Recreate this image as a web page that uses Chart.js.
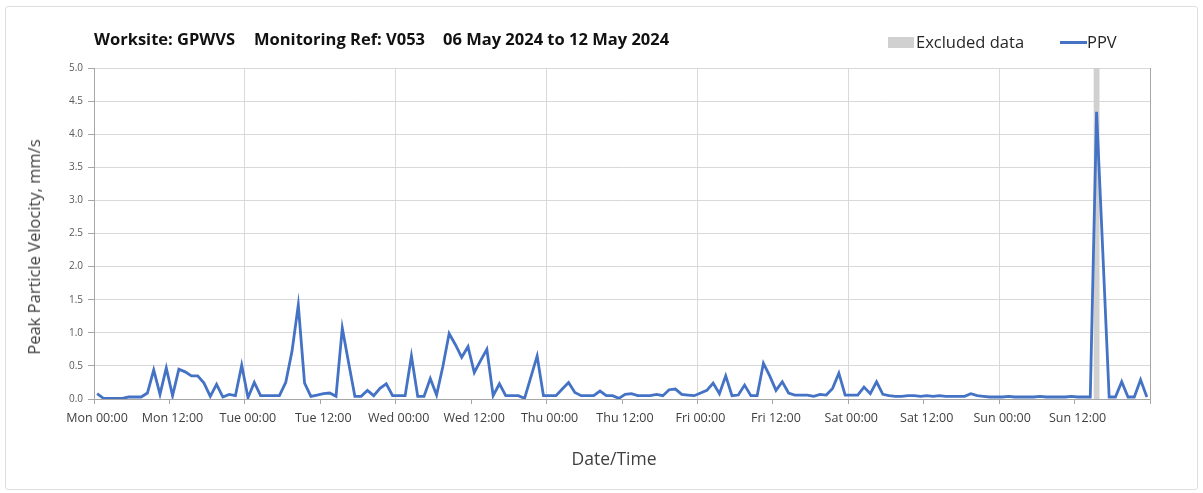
<!DOCTYPE html>
<html>
<head>
<meta charset="utf-8">
<script src="https://cdn.jsdelivr.net/npm/chart.js@4/dist/chart.umd.min.js"></script>
<style>
  html, body { margin: 0; padding: 0; background: #fff; }
  #wrap { position: relative; width: 1203px; height: 493px; overflow: hidden;
          font-family: "Open Sans", Lato, sans-serif; }
  #frame { position: absolute; left: 5px; top: 6px; width: 1191px; height: 482px;
           border: 1px solid #dedede; border-radius: 3px; }
  #chart { position: absolute; left: 0; top: 0; }
  .ttl { position: absolute; top: 27px; font-weight: bold; font-size: 16.5px; color: #111; white-space: pre; }
  .leg { position: absolute; top: 30px; font-size: 16.5px; color: #262626; white-space: pre; }
  #exBox { position: absolute; left: 888px; top: 37px; width: 26px; height: 11px; background: #d0d0d0; }
  #ppvLine { position: absolute; left: 1060px; top: 41px; width: 27px; height: 3px; background: #4472C4; }
  .axTitle { position: absolute; font-size: 16.5px; color: #404040; white-space: pre; line-height: 20px; }
  #yTitle { left: 34px; top: 247px; transform: translate(-50%, -50%) rotate(-90deg); }
  #xTitle { left: 614px; top: 458px; transform: translate(-50%, -50%); font-size: 17.5px; }
</style>
</head>
<body>
<div id="wrap">
  <div id="frame"></div>
  <canvas id="chart" width="1203" height="493"></canvas>
  <span class="ttl" style="left:94px">Worksite: GPWVS</span>
  <span class="ttl" style="left:254px">Monitoring Ref: V053</span>
  <span class="ttl" style="left:443px">06 May 2024 to 12 May 2024</span>
  <div id="exBox"></div>
  <span class="leg" style="left:916px">Excluded data</span>
  <div id="ppvLine"></div>
  <span class="leg" style="left:1087px">PPV</span>
  <span class="axTitle" id="yTitle">Peak Particle Velocity, mm/s</span>
  <span class="axTitle" id="xTitle">Date/Time</span>
</div>
<script>
// Hourly peak particle velocity (mm/s), one array per day, 00:00-23:00
const monPPV = [0.08,0.01,0.01,0.01,0.01,0.03,0.03,0.03,0.09,0.44,0.07,0.47,
                0.05,0.45,0.41,0.35,0.35,0.24,0.04,0.22,0.03,0.07,0.05,0.51];
const tuePPV = [0.02,0.25,0.05,0.05,0.05,0.05,0.25,0.72,1.42,0.24,0.04,0.06,
                0.08,0.09,0.04,1.07,0.55,0.04,0.04,0.13,0.05,0.16,0.23,0.05];
const wedPPV = [0.05,0.05,0.65,0.04,0.04,0.31,0.06,0.49,0.99,0.82,0.63,0.79,
                0.40,0.58,0.75,0.05,0.23,0.05,0.05,0.05,0.01,0.33,0.65,0.05];
const thuPPV = [0.05,0.05,0.15,0.25,0.10,0.05,0.05,0.05,0.12,0.05,0.05,0.01,
                0.07,0.08,0.05,0.05,0.05,0.07,0.05,0.14,0.15,0.07,0.06,0.05];
const friPPV = [0.09,0.13,0.24,0.08,0.35,0.05,0.06,0.21,0.05,0.05,0.54,0.35,
                0.13,0.26,0.09,0.06,0.06,0.06,0.04,0.07,0.06,0.16,0.39,0.06];
const satPPV = [0.06,0.06,0.18,0.08,0.26,0.07,0.05,0.04,0.04,0.05,0.05,0.04,
                0.05,0.04,0.05,0.04,0.04,0.04,0.04,0.08,0.05,0.04,0.03,0.03];
const sunPPV = [0.03,0.04,0.03,0.03,0.03,0.03,0.04,0.03,0.03,0.03,0.03,0.04,
                0.03,0.03,0.03,4.34,2.20,0.03,0.03,0.26,0.03,0.03,0.29,0.03];

// Hours (from Mon 00:00) flagged as excluded data
const excludedStart = [159];
const excludedEnd   = [160];

// Axis tick labels every 12 hours
const xTickLabels = ['Mon 00:00','Mon 12:00','Tue 00:00','Tue 12:00','Wed 00:00','Wed 12:00',
                     'Thu 00:00','Thu 12:00','Fri 00:00','Fri 12:00','Sat 00:00','Sat 12:00',
                     'Sun 00:00','Sun 12:00'];
const yMax = 5.0;
const weekHours = 168;

const ppv = [].concat(monPPV, tuePPV, wedPPV, thuPPV, friPPV, satPPV, sunPPV);
// each hourly reading is plotted at the middle of its hour
const ppvPoints = ppv.map((v, i) => ({ x: i + 0.5, y: v }));
const excludedPoints = [];
excludedStart.forEach((s, k) => {
  excludedPoints.push({ x: s, y: yMax }, { x: excludedEnd[k], y: yMax });
});

const axisGrey = '#a6a6a6';
const gridGrey = '#d9d9d9';
const fontFamily = '"Open Sans", Lato, sans-serif';

new Chart(document.getElementById('chart'), {
  type: 'line',
  data: {
    datasets: [
      {
        label: 'Excluded data',
        data: excludedPoints,
        borderWidth: 0,
        borderColor: 'rgba(0,0,0,0)',
        backgroundColor: '#d0d0d0',
        fill: 'origin',
        pointRadius: 0,
        order: 2
      },
      {
        label: 'PPV',
        data: ppvPoints,
        borderColor: '#4472C4',
        borderWidth: 2.8,
        pointRadius: 0,
        tension: 0,
        fill: false,
        order: 1
      }
    ]
  },
  options: {
    responsive: false,
    animation: false,
    layout: { padding: { left: 14, top: 68, right: 53, bottom: 14 } },
    plugins: { legend: { display: false }, tooltip: { enabled: false } },
    scales: {
      x: {
        type: 'linear',
        min: 0,
        max: weekHours,
        afterFit: s => { s.height = 80; },
        border: { color: axisGrey, width: 1 },
        grid: {
          color: c => (c.tick && c.tick.value === weekHours) ? axisGrey
                     : (c.tick && c.tick.value % 24 === 0 ? gridGrey : 'rgba(0,0,0,0)'),
          tickColor: axisGrey,
          tickLength: 5,
          lineWidth: 1
        },
        ticks: {
          stepSize: 12,
          autoSkip: false,
          maxRotation: 0,
          labelOffset: 3,
          padding: 7,
          color: '#404040',
          font: { family: fontFamily, size: 12.5 },
          callback: v => xTickLabels[Math.round(v / 12)] || ''
        },
        title: { display: false }
      },
      y: {
        min: 0,
        max: yMax,
        afterFit: s => { s.width = 80; },
        border: { color: axisGrey, width: 1 },
        grid: { color: gridGrey, tickColor: axisGrey, tickLength: 6, lineWidth: 1 },
        ticks: {
          stepSize: 0.5,
          padding: 5,
          color: '#595959',
          font: { family: fontFamily, size: 10 },
          callback: v => v.toFixed(1)
        },
        title: { display: false }
      }
    }
  }
});
</script>
</body>
</html>
